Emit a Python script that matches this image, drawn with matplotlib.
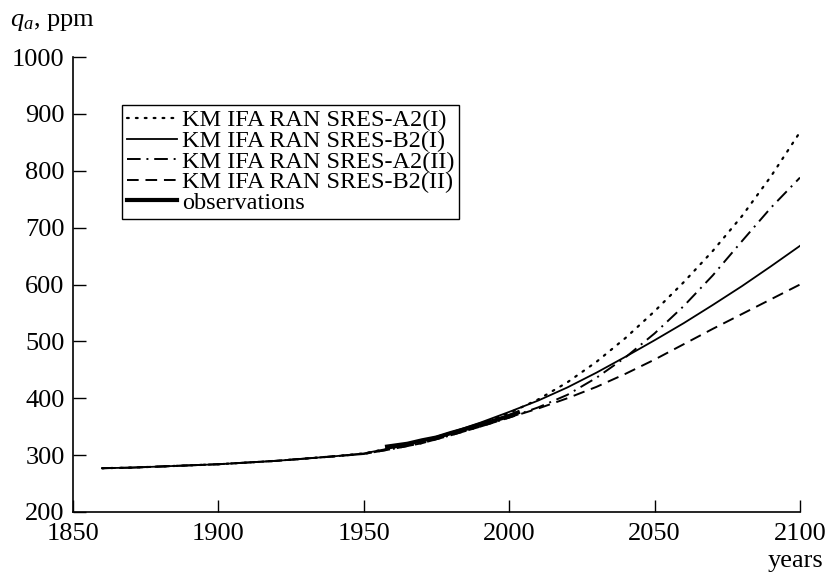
import numpy as np
import matplotlib
matplotlib.use('Agg')
import matplotlib.pyplot as plt

plt.rcParams['font.family'] = ['Liberation Serif', 'DejaVu Serif']
plt.rcParams['mathtext.fontset'] = 'custom'
plt.rcParams['mathtext.it'] = 'Liberation Serif:italic'
plt.rcParams['mathtext.rm'] = 'Liberation Serif'

# years for model runs
anos = [1860, 1870, 1880, 1890, 1900, 1910, 1920, 1930, 1940, 1950, 1960, 1970,
        1980, 1990, 2000, 2010, 2020, 2030, 2040, 2050, 2060, 2070, 2080, 2090, 2100]

a2_i = [277, 278, 280, 282, 284, 287, 290, 294, 298, 303, 313, 324,
        338, 355, 374, 398, 428, 464, 506, 553, 604, 659, 720, 790, 868]
b2_i = [277, 278, 280, 282, 284, 287, 290, 294, 298, 303, 313, 325,
        340, 357, 376, 396, 419, 445, 473, 502, 532, 564, 597, 632, 668]
a2_ii = [277, 278, 280, 282, 284, 287, 290, 294, 298, 302, 311, 321,
         335, 350, 366, 384, 406, 436, 472, 514, 562, 616, 676, 735, 788]
b2_ii = [277, 278, 280, 282, 284, 287, 290, 294, 298, 302, 311, 321,
         335, 350, 366, 382, 400, 420, 443, 468, 495, 522, 548, 574, 600]

# observaciones (Mauna Loa)
anos_obs = [1958, 1965, 1970, 1975, 1980, 1985, 1990, 1995, 2000, 2003]
obs = [315, 320, 326, 331, 339, 346, 354, 361, 369, 375]

fig = plt.figure(figsize=(8.26, 5.72), dpi=100)
ax = fig.add_axes([0.0884, 0.1049, 0.8801, 0.7954])

ax.plot(anos, a2_i, color='black', lw=1.6, linestyle=(0, (0.8, 3.2)),
        dash_capstyle='round', label='KM IFA RAN SRES-A2(I)')
ax.plot(anos, b2_i, color='black', lw=1.3, label='KM IFA RAN SRES-B2(I)')
ax.plot(anos, a2_ii, color='black', lw=1.4, linestyle=(0, (7, 3, 1, 3)),
        label='KM IFA RAN SRES-A2(II)')
ax.plot(anos, b2_ii, color='black', lw=1.4, linestyle=(0, (6, 3.5)),
        label='KM IFA RAN SRES-B2(II)')
ax.plot(anos_obs, obs, color='black', lw=3, label='observations')

ax.set_xlim(1850, 2100)
ax.set_ylim(200, 1000)
ax.set_xticks([1850, 1900, 1950, 2000, 2050, 2100])
ax.set_yticks([200, 300, 400, 500, 600, 700, 800, 900, 1000])
ax.tick_params(direction='in', length=9, width=1, labelsize=19, colors='black')
ax.tick_params(axis='y', pad=6)
ax.tick_params(axis='x', pad=8)
ax.spines['top'].set_visible(False)
ax.spines['right'].set_visible(False)
for s in ['left', 'bottom']:
    ax.spines[s].set_linewidth(1.2)

leg = ax.legend(loc='lower left', bbox_to_anchor=(0.068, 0.645), fontsize=17.5,
                frameon=True, fancybox=False, edgecolor='black', framealpha=1,
                handlelength=2.05, handletextpad=0.2, borderpad=0.2,
                labelspacing=-0.06, borderaxespad=0)
leg.get_frame().set_linewidth(1.0)

fig.text(0.012, 0.962, r'$q_a$, ppm', fontsize=19, ha='left', va='center')
fig.text(0.963, 0.02, 'years', fontsize=19, ha='center', va='center')

fig.savefig('out.png', dpi=100)
